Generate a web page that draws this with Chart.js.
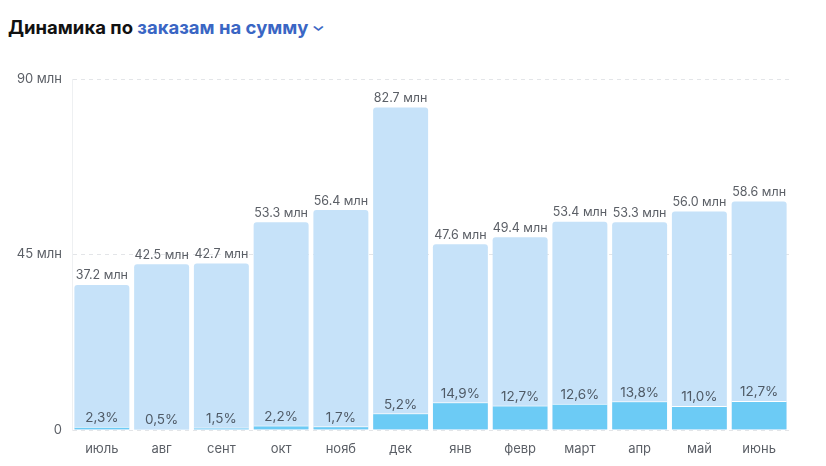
<!DOCTYPE html>
<html lang="ru">
<head>
<meta charset="utf-8">
<script src="https://cdn.jsdelivr.net/npm/chart.js@4/dist/chart.umd.min.js"></script>
<style>
    html, body { margin: 0; padding: 0; background: #fff; }
    body { width: 826px; height: 466px; overflow: hidden; position: relative; font-family: Inter, "Open Sans", sans-serif; }
    .title { position: absolute; left: 8px; top: 16px; font-size: 18.5px; font-weight: 700; color: #111; letter-spacing: 0px; }
    .title .sel { color: #3a66c4; }
    .title .chev { color: #3a66c4; font-size: 13px; display: inline-block; transform: scaleX(1.3) translateY(-3px); margin-left: 5px; }
    .wrap { position: absolute; left: 0; top: 60px; width: 826px; height: 406px; }
</style>
</head>
<body>
<div class="title">Динамика по <span class="sel">заказам на сумму</span><span class="chev">&#8964;</span></div>
<div class="wrap"><canvas id="chart"></canvas></div>
<script>
const months = ['июль', 'авг', 'сент', 'окт', 'нояб', 'дек', 'янв', 'февр', 'март', 'апр', 'май', 'июнь'];
const totals = [37.2, 42.5, 42.7, 53.3, 56.4, 82.7, 47.6, 49.4, 53.4, 53.3, 56.0, 58.6];
const shares = [2.3, 0.5, 1.5, 2.2, 1.7, 5.2, 14.9, 12.7, 12.6, 13.8, 11.0, 12.7];
const yTicks = [0, 45, 90];

// доля от суммы заказов, млн
const shareValues = totals.map((t, i) => t * shares[i] / 100);

const barLabels = {
    id: 'barLabels',
    afterDatasetsDraw(chart) {
        const ctx = chart.ctx;
        ctx.save();
        ctx.textAlign = 'center';
        ctx.textBaseline = 'bottom';

        const totalMeta = chart.getDatasetMeta(1);
        ctx.font = '12.5px Inter, "Open Sans", sans-serif';
        ctx.fillStyle = '#5b5f66';
        totalMeta.data.forEach((bar, i) => {
            ctx.fillText(totals[i].toFixed(1) + ' млн', bar.x, bar.y - 3);
        });

        const shareMeta = chart.getDatasetMeta(0);
        ctx.font = '13.5px Inter, "Open Sans", sans-serif';
        ctx.fillStyle = '#4f5a66';
        shareMeta.data.forEach((bar, i) => {
            ctx.fillText(shares[i].toFixed(1).replace('.', ',') + '%', bar.x, bar.y - 2);
        });
        ctx.restore();
    }
};

new Chart(document.getElementById('chart'), {
    type: 'bar',
    data: {
        labels: months,
        datasets: [{
            label: 'Доля',
            data: shareValues,
            backgroundColor: '#6ccbf5',
            borderColor: '#ffffff',
            borderWidth: { top: 1, left: 0, right: 0, bottom: 0 },
            borderSkipped: 'bottom',
            grouped: false,
            barPercentage: 0.92,
            categoryPercentage: 1
        }, {
            label: 'Сумма заказов',
            data: totals,
            backgroundColor: '#c6e2f9',
            borderRadius: { topLeft: 3, topRight: 3 },
            borderSkipped: 'bottom',
            grouped: false,
            barPercentage: 0.92,
            categoryPercentage: 1
        }]
    },
    options: {
        responsive: true,
        maintainAspectRatio: false,
        animation: false,
        layout: { padding: { left: 0, right: 37, top: 19, bottom: 0 } },
        plugins: {
            legend: { display: false },
            tooltip: { enabled: false }
        },
        scales: {
            x: {
                grid: { display: false },
                border: { display: false },
                ticks: {
                    color: '#5b5f66',
                    padding: 3,
                    font: { family: 'Inter, "Open Sans", sans-serif', size: 13 }
                },
                afterFit: function (scale) { scale.height = 36; }
            },
            y: {
                min: 0,
                max: 90,
                afterBuildTicks: function (scale) {
                    scale.ticks = yTicks.map(v => ({ value: v }));
                },
                afterFit: function (scale) { scale.width = 72; },
                grid: {
                    color: '#e3e5e8',
                    drawTicks: false
                },
                border: { display: true, color: '#eef0f2', dash: [4, 4] },
                ticks: {
                    color: '#5b5f66',
                    padding: 10,
                    font: { family: 'Inter, "Open Sans", sans-serif', size: 13 },
                    callback: function (v) { return v === 0 ? '0' : v + ' млн'; }
                }
            }
        }
    },
    plugins: [barLabels]
});
</script>
</body>
</html>
